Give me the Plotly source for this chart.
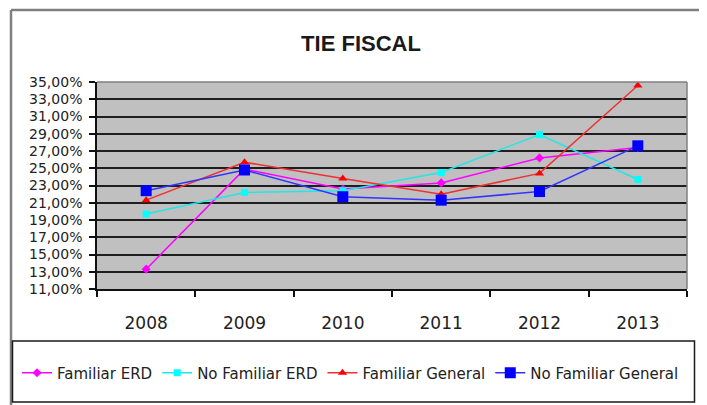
import plotly.graph_objects as go

# ---- data ----
years = ["2008", "2009", "2010", "2011", "2012", "2013"]
familiar_erd = [13.3, 24.9, 22.6, 23.3, 26.2, 27.4]
no_familiar_erd = [19.7, 22.2, 22.4, 24.5, 28.9, 23.7]
familiar_general = [21.3, 25.7, 23.8, 22.0, 24.4, 34.6]
no_familiar_general = [22.4, 24.8, 21.7, 21.3, 22.3, 27.6]
series_names = ["Familiar ERD", "No Familiar ERD", "Familiar General", "No Familiar General"]

# page body has an 8px default margin: work in figure coordinates = screen - 8
OFF = 8
W, H = 707 - OFF, 405 - OFF
L, R, T, B = 97 - OFF, 687 - OFF, 82 - OFF, 289 - OFF  # plot area in figure pixels


def px_x(x):  # x given in screen pixels
    return (x - OFF - L) / (R - L)


def px_y(y):  # y given in screen pixels
    return (B - (y - OFF)) / (B - T)


styles = [
    dict(line=dict(color="#FF00FF", width=1.5), marker=dict(symbol="diamond", size=7, color="#FF00FF")),
    dict(line=dict(color="#22E6E6", width=1.5), marker=dict(symbol="square", size=7, color="#00FFFF")),
    dict(line=dict(color="#F03030", width=1.5), marker=dict(symbol="triangle-up", size=8, color="#FF0000")),
    dict(line=dict(color="#3333FF", width=1.5), marker=dict(symbol="square", size=11, color="#0000FF")),
]

fig = go.Figure()
for name, vals, st in zip(series_names,
                          [familiar_erd, no_familiar_erd, familiar_general, no_familiar_general],
                          styles):
    fig.add_trace(go.Scatter(
        x=years, y=[v / 100 for v in vals], name=name, mode="lines+markers",
        line=st["line"], marker=st["marker"],
    ))

shapes = [
    # outer chart frame (top + left)
    dict(type="line", xref="paper", yref="paper", x0=px_x(11), x1=px_x(720), y0=px_y(10), y1=px_y(10),
         line=dict(color="#808080", width=2.5), layer="above"),
    dict(type="line", xref="paper", yref="paper", x0=px_x(11), x1=px_x(11), y0=px_y(10), y1=px_y(420),
         line=dict(color="#808080", width=2.5), layer="above"),
    # plot area top/right border
    dict(type="line", xref="paper", yref="paper", x0=0, x1=1, y0=1, y1=1,
         line=dict(color="#808080", width=1.5), layer="above"),
    dict(type="line", xref="paper", yref="paper", x0=1, x1=1, y0=0, y1=1,
         line=dict(color="#808080", width=1.5), layer="above"),
    # legend box
    dict(type="rect", xref="paper", yref="paper", x0=px_x(12.5), x1=px_x(694.5), y0=px_y(341), y1=px_y(402),
         line=dict(color="#1a1a1a", width=1.5), layer="above"),
]

fig.update_layout(
    width=W, height=H,
    margin=dict(l=L, r=W - R, t=T, b=H - B, pad=0, autoexpand=False),
    paper_bgcolor="white",
    plot_bgcolor="#C0C0C0",
    separators=",.",
    font=dict(family="DejaVu Sans", color="#222222"),
    title=dict(text="<b>TIE FISCAL</b>", x=(361 - OFF) / W, xanchor="center", xref="container",
               y=1 - (43 - OFF) / H, yanchor="middle", yref="container",
               font=dict(family="Liberation Sans", size=22, color="#1a1a1a")),
    showlegend=True,
    legend=dict(orientation="h", xref="paper", yref="paper",
                x=px_x(17), xanchor="left", y=px_y(373), yanchor="middle",
                font=dict(family="DejaVu Sans", size=15, color="#222222"),
                itemwidth=30, tracegroupgap=0, bgcolor="rgba(0,0,0,0)"),
    shapes=shapes,
    xaxis=dict(type="category", range=[-0.5, 5.5], autorange=False,
               showgrid=False, zeroline=False,
               showline=True, linecolor="#111111", linewidth=1.5,
               ticks="outside", ticklen=6, tickcolor="#111111", tickwidth=1.5,
               tickson="boundaries", ticklabelstandoff=18,
               tickfont=dict(family="DejaVu Sans", size=17, color="#222222")),
    yaxis=dict(range=[0.11, 0.35], dtick=0.02, tick0=0.11, tickformat=".2%",
               showgrid=True, gridcolor="#1e1e1e", gridwidth=2, zeroline=False,
               showline=True, linecolor="#111111", linewidth=1.5,
               ticks="outside", ticklen=6, tickcolor="#111111", tickwidth=1.5,
               ticklabelstandoff=4,
               tickfont=dict(family="DejaVu Sans", size=14, color="#222222")),
)

fig.write_html("out.html")
